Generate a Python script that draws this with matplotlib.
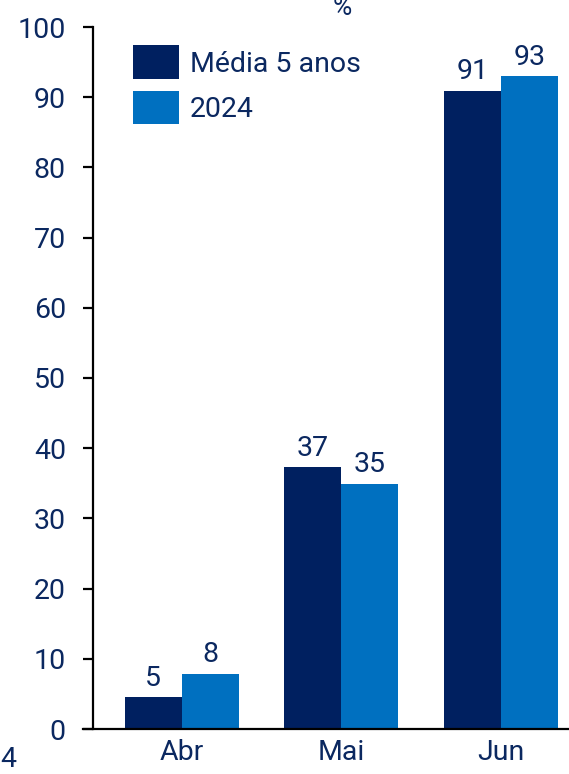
import numpy as np
import matplotlib.pyplot as plt
from matplotlib.lines import Line2D

# --- data ---
months = ['Abr', 'Mai', 'Jun']
media_5_anos = [4.5, 37.3, 90.9]
ano_2024 = [7.9, 34.9, 93.0]
labels_media = ['5', '37', '91']
labels_2024 = ['8', '35', '93']
series_names = ['Média 5 anos', '2024']
y_ticks = [0, 10, 20, 30, 40, 50, 60, 70, 80, 90, 100]

DARK = '#002060'
LIGHT = '#0070C0'
TXT = '#0B2860'
FS = 20.5

plt.rcParams['font.family'] = ['Roboto', 'DejaVu Sans']

fig = plt.figure(figsize=(5.69, 7.74), dpi=100)
ax = fig.add_axes([93 / 569, 1 - 729 / 774, 1 - 93 / 569, (729 - 27) / 774])

x = np.arange(len(months))
w = 0.357
b1 = ax.bar(x - w / 2, media_5_anos, width=w, color=DARK, label=series_names[0])
b2 = ax.bar(x + w / 2, ano_2024, width=w, color=LIGHT, label=series_names[1])
ax.bar_label(b1, labels=labels_media, padding=4, fontsize=FS, color=TXT)
ax.bar_label(b2, labels=labels_2024, padding=4, fontsize=FS, color=TXT)

ax.set_xlim(-0.556, 2.425)
ax.set_ylim(0, 100)
ax.set_yticks(y_ticks)
ax.set_xticks(x, months)

ax.spines['top'].set_visible(False)
ax.spines['right'].set_visible(False)
ax.spines['bottom'].set_visible(False)
ax.spines['left'].set_linewidth(1.6)
ax.tick_params(axis='y', length=7.5, width=1.6, pad=12, labelsize=FS, labelcolor=TXT)
ax.tick_params(axis='x', length=0, pad=7, labelsize=FS, labelcolor=TXT)

# bottom axis line reaches a bit left of the y axis
ax.add_line(Line2D([-0.022, 1.0], [0, 0], transform=ax.transAxes, color='black',
                   linewidth=1.6, clip_on=False))

leg = ax.legend(loc='upper left', bbox_to_anchor=(0.06, 0.99), frameon=False,
                fontsize=FS, labelcolor=TXT, handlelength=1.6, handleheight=1.45,
                handletextpad=0.4, labelspacing=0.4, borderaxespad=0)

fig.text(342 / 569, 1 - 15 / 774, '%', ha='center', va='baseline', fontsize=19, color=TXT)
fig.text(0, 1 - 767 / 774, '4', ha='left', va='baseline', fontsize=FS, color=TXT)

fig.savefig('out.png', dpi=100)
